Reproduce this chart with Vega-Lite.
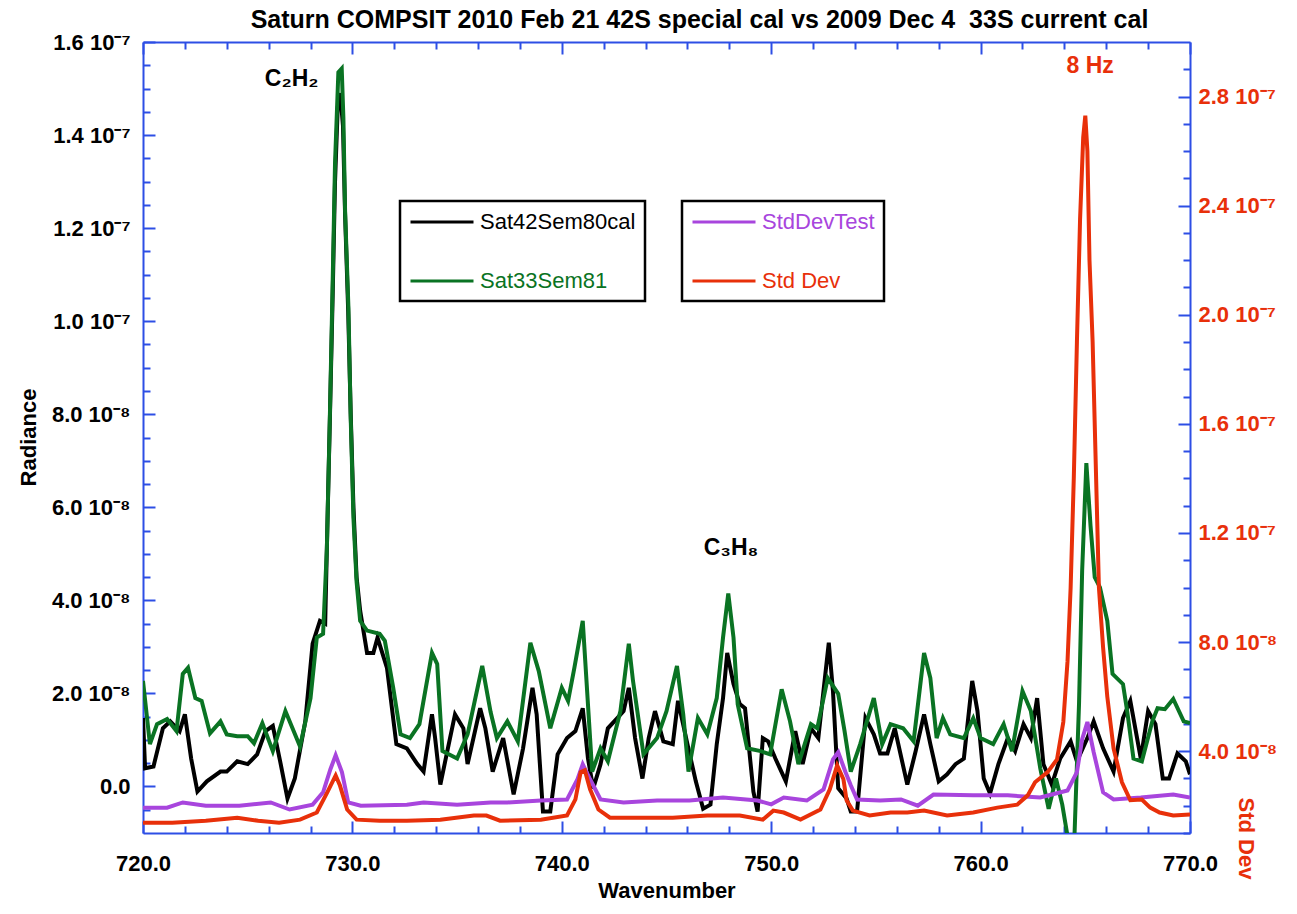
{
  "$schema": "https://vega.github.io/schema/vega-lite/v6.json",
  "width": 1047,
  "height": 791,
  "autosize": {"type": "none"},
  "padding": {"left": 143, "top": 42, "right": 107, "bottom": 81},
  "background": "white",
  "title": {
    "text": "Saturn COMPSIT 2010 Feb 21 42S special cal vs 2009 Dec 4\u00a0 33S current cal",
    "font": "Liberation Sans",
    "fontSize": 25,
    "fontWeight": "bold",
    "color": "#000000",
    "anchor": "middle",
    "frame": "group",
    "offset": -2,
    "dx": 33
  },
  "datasets": {
    "black": [
      {"w":720,"v":1.47e-8},{"w":720.1,"v":0.39e-8},{"w":720.5,"v":0.43e-8},{"w":720.95,"v":1.25e-8},{"w":721.3,"v":1.40e-8},{"w":721.75,"v":1.19e-8},{"w":722.0,"v":1.55e-8},{"w":722.3,"v":0.6e-8},{"w":722.6,"v":-0.11e-8},{"w":723.05,"v":0.11e-8},{"w":723.7,"v":0.32e-8},{"w":724.0,"v":0.32e-8},{"w":724.5,"v":0.54e-8},{"w":725.0,"v":0.48e-8},{"w":725.45,"v":0.69e-8},{"w":725.85,"v":1.19e-8},{"w":726.2,"v":1.30e-8},{"w":726.55,"v":0.54e-8},{"w":726.9,"v":-0.26e-8},{"w":727.25,"v":0.17e-8},{"w":727.75,"v":1.40e-8},{"w":728.1,"v":3.07e-8},{"w":728.45,"v":3.56e-8},{"w":728.7,"v":3.5e-8},{"w":728.8,"v":5.5e-8},{"w":728.93,"v":8.0e-8},{"w":729.06,"v":10.6e-8},{"w":729.17,"v":13.0e-8},{"w":729.3,"v":14.6e-8},{"w":729.42,"v":14.9e-8},{"w":729.55,"v":14.2e-8},{"w":729.65,"v":12.3e-8},{"w":729.8,"v":10.2e-8},{"w":729.92,"v":8.0e-8},{"w":730.05,"v":6.0e-8},{"w":730.2,"v":4.5e-8},{"w":730.37,"v":3.78e-8},{"w":730.7,"v":2.87e-8},{"w":731.0,"v":2.87e-8},{"w":731.2,"v":3.2e-8},{"w":731.65,"v":2.55e-8},{"w":732.1,"v":0.91e-8},{"w":732.6,"v":0.82e-8},{"w":733.1,"v":0.48e-8},{"w":733.4,"v":0.32e-8},{"w":733.8,"v":1.55e-8},{"w":733.95,"v":1.04e-8},{"w":734.2,"v":0.04e-8},{"w":734.5,"v":0.69e-8},{"w":734.9,"v":1.55e-8},{"w":735.3,"v":1.25e-8},{"w":735.5,"v":0.48e-8},{"w":736.1,"v":1.68e-8},{"w":736.35,"v":1.25e-8},{"w":736.7,"v":0.32e-8},{"w":737.2,"v":1.04e-8},{"w":737.7,"v":-0.17e-8},{"w":738.15,"v":0.82e-8},{"w":738.6,"v":2.12e-8},{"w":738.8,"v":1.55e-8},{"w":739.1,"v":-0.54e-8},{"w":739.45,"v":-0.54e-8},{"w":739.8,"v":0.69e-8},{"w":740.25,"v":1.04e-8},{"w":740.65,"v":1.19e-8},{"w":741.0,"v":1.68e-8},{"w":741.25,"v":0.6e-8},{"w":741.5,"v":-0.04e-8},{"w":741.85,"v":0.48e-8},{"w":742.2,"v":1.25e-8},{"w":742.65,"v":1.47e-8},{"w":742.95,"v":1.62e-8},{"w":743.2,"v":2.12e-8},{"w":743.5,"v":1.04e-8},{"w":743.85,"v":0.17e-8},{"w":744.15,"v":1.04e-8},{"w":744.45,"v":1.62e-8},{"w":744.85,"v":0.97e-8},{"w":745.3,"v":0.91e-8},{"w":745.55,"v":1.84e-8},{"w":746.0,"v":0.91e-8},{"w":746.4,"v":0.11e-8},{"w":746.75,"v":-0.48e-8},{"w":747.1,"v":-0.39e-8},{"w":747.4,"v":0.91e-8},{"w":747.7,"v":1.90e-8},{"w":747.9,"v":2.87e-8},{"w":748.2,"v":2.2e-8},{"w":748.5,"v":1.77e-8},{"w":748.75,"v":1.68e-8},{"w":749.15,"v":-0.11e-8},{"w":749.35,"v":-0.54e-8},{"w":749.6,"v":1.04e-8},{"w":749.85,"v":0.97e-8},{"w":750.2,"v":0.6e-8},{"w":750.7,"v":0.11e-8},{"w":751.15,"v":1.19e-8},{"w":751.5,"v":0.48e-8},{"w":751.9,"v":1.25e-8},{"w":752.25,"v":1.04e-8},{"w":752.75,"v":3.09e-8},{"w":752.95,"v":2.05e-8},{"w":753.2,"v":-0.04e-8},{"w":753.6,"v":-0.26e-8},{"w":753.8,"v":-0.54e-8},{"w":754.1,"v":-0.54e-8},{"w":754.5,"v":1.47e-8},{"w":754.9,"v":1.12e-8},{"w":755.2,"v":0.71e-8},{"w":755.55,"v":0.71e-8},{"w":755.9,"v":1.25e-8},{"w":756.5,"v":0.04e-8},{"w":756.9,"v":0.76e-8},{"w":757.3,"v":1.55e-8},{"w":757.6,"v":0.91e-8},{"w":758.0,"v":0.11e-8},{"w":758.4,"v":0.26e-8},{"w":758.8,"v":0.48e-8},{"w":759.2,"v":0.6e-8},{"w":759.6,"v":2.27e-8},{"w":759.85,"v":1.62e-8},{"w":760.15,"v":0.17e-8},{"w":760.45,"v":-0.15e-8},{"w":760.85,"v":0.48e-8},{"w":761.3,"v":1.04e-8},{"w":761.65,"v":0.76e-8},{"w":762.05,"v":1.34e-8},{"w":762.4,"v":1.04e-8},{"w":762.7,"v":1.90e-8},{"w":763.0,"v":0.48e-8},{"w":763.4,"v":0.04e-8},{"w":763.8,"v":0.6e-8},{"w":764.3,"v":0.97e-8},{"w":764.6,"v":0.54e-8},{"w":765.1,"v":1.04e-8},{"w":765.4,"v":1.40e-8},{"w":765.85,"v":0.82e-8},{"w":766.35,"v":0.32e-8},{"w":766.8,"v":1.47e-8},{"w":767.15,"v":1.84e-8},{"w":767.65,"v":0.6e-8},{"w":768.0,"v":1.62e-8},{"w":768.35,"v":1.34e-8},{"w":768.7,"v":0.17e-8},{"w":769.0,"v":0.17e-8},{"w":769.4,"v":0.71e-8},{"w":769.8,"v":0.54e-8},{"w":770.0,"v":0.26e-8}
    ],
    "green": [
      {"w":720,"v":2.27e-8},{"w":720.33,"v":0.91e-8},{"w":720.67,"v":1.34e-8},{"w":721.15,"v":1.45e-8},{"w":721.6,"v":1.19e-8},{"w":721.9,"v":2.42e-8},{"w":722.15,"v":2.55e-8},{"w":722.5,"v":1.90e-8},{"w":722.8,"v":1.84e-8},{"w":723.2,"v":1.14e-8},{"w":723.7,"v":1.40e-8},{"w":724.0,"v":1.12e-8},{"w":724.5,"v":1.08e-8},{"w":725.0,"v":1.08e-8},{"w":725.3,"v":0.93e-8},{"w":725.7,"v":1.36e-8},{"w":726.2,"v":0.76e-8},{"w":726.8,"v":1.62e-8},{"w":727.5,"v":0.86e-8},{"w":728.0,"v":1.90e-8},{"w":728.3,"v":3.2e-8},{"w":728.6,"v":3.28e-8},{"w":728.78,"v":5.1e-8},{"w":728.93,"v":8.08e-8},{"w":729.06,"v":10.9e-8},{"w":729.17,"v":13.4e-8},{"w":729.33,"v":15.35e-8},{"w":729.49,"v":15.43e-8},{"w":729.57,"v":14.36e-8},{"w":729.65,"v":12.38e-8},{"w":729.81,"v":10.3e-8},{"w":729.92,"v":7.9e-8},{"w":730.05,"v":5.77e-8},{"w":730.2,"v":4.4e-8},{"w":730.37,"v":3.56e-8},{"w":730.7,"v":3.35e-8},{"w":731.3,"v":3.28e-8},{"w":731.55,"v":3.13e-8},{"w":731.95,"v":2.12e-8},{"w":732.3,"v":1.12e-8},{"w":732.75,"v":1.04e-8},{"w":733.2,"v":1.34e-8},{"w":733.8,"v":2.87e-8},{"w":734.05,"v":2.63e-8},{"w":734.3,"v":0.76e-8},{"w":735.0,"v":0.6e-8},{"w":735.5,"v":1.12e-8},{"w":736.2,"v":2.59e-8},{"w":736.6,"v":1.6e-8},{"w":736.9,"v":1.04e-8},{"w":737.4,"v":1.40e-8},{"w":737.9,"v":0.97e-8},{"w":738.5,"v":3.09e-8},{"w":738.9,"v":2.48e-8},{"w":739.45,"v":1.25e-8},{"w":740.0,"v":2.12e-8},{"w":740.3,"v":1.84e-8},{"w":740.6,"v":2.55e-8},{"w":741.0,"v":3.56e-8},{"w":741.2,"v":2.12e-8},{"w":741.45,"v":0.32e-8},{"w":741.85,"v":0.82e-8},{"w":742.2,"v":0.54e-8},{"w":742.8,"v":1.62e-8},{"w":743.2,"v":3.07e-8},{"w":743.4,"v":2.27e-8},{"w":743.9,"v":0.69e-8},{"w":744.55,"v":1.04e-8},{"w":745.0,"v":1.62e-8},{"w":745.5,"v":2.59e-8},{"w":745.8,"v":1.55e-8},{"w":746.05,"v":0.32e-8},{"w":746.5,"v":1.47e-8},{"w":746.95,"v":1.12e-8},{"w":747.4,"v":1.90e-8},{"w":747.7,"v":3.2e-8},{"w":747.95,"v":4.15e-8},{"w":748.2,"v":3.2e-8},{"w":748.4,"v":1.77e-8},{"w":748.85,"v":0.82e-8},{"w":749.5,"v":0.76e-8},{"w":749.95,"v":0.69e-8},{"w":750.5,"v":2.09e-8},{"w":750.9,"v":1.40e-8},{"w":751.3,"v":0.48e-8},{"w":751.9,"v":1.34e-8},{"w":752.2,"v":1.25e-8},{"w":752.7,"v":2.33e-8},{"w":753.2,"v":1.99e-8},{"w":753.5,"v":1.2e-8},{"w":753.8,"v":0.32e-8},{"w":754.25,"v":0.91e-8},{"w":754.9,"v":1.90e-8},{"w":755.3,"v":0.91e-8},{"w":755.7,"v":1.34e-8},{"w":756.3,"v":1.25e-8},{"w":756.8,"v":0.97e-8},{"w":757.3,"v":2.87e-8},{"w":757.6,"v":2.33e-8},{"w":757.9,"v":1.04e-8},{"w":758.2,"v":1.47e-8},{"w":758.55,"v":1.12e-8},{"w":759.2,"v":1.04e-8},{"w":759.65,"v":1.47e-8},{"w":760.0,"v":1.04e-8},{"w":760.6,"v":0.91e-8},{"w":761.1,"v":1.34e-8},{"w":761.5,"v":0.76e-8},{"w":762.0,"v":2.05e-8},{"w":762.4,"v":1.62e-8},{"w":762.85,"v":0.39e-8},{"w":763.25,"v":-0.48e-8},{"w":763.6,"v":0.17e-8},{"w":763.9,"v":-0.39e-8},{"w":764.2,"v":-1.2e-8},{"w":764.45,"v":-1.5e-8},{"w":764.7,"v":1.77e-8},{"w":764.85,"v":4.64e-8},{"w":765.05,"v":6.95e-8},{"w":765.25,"v":5.6e-8},{"w":765.45,"v":4.5e-8},{"w":765.7,"v":4.28e-8},{"w":766.05,"v":3.56e-8},{"w":766.3,"v":2.42e-8},{"w":766.8,"v":2.2e-8},{"w":767.0,"v":1.62e-8},{"w":767.3,"v":0.6e-8},{"w":767.7,"v":0.54e-8},{"w":768.2,"v":1.40e-8},{"w":768.45,"v":1.68e-8},{"w":768.8,"v":1.66e-8},{"w":769.2,"v":1.88e-8},{"w":769.7,"v":1.40e-8},{"w":770.0,"v":1.36e-8}
    ],
    "purple": [
      {"w":720,"v":1.93e-8},{"w":721.15,"v":1.93e-8},{"w":721.9,"v":2.12e-8},{"w":723.0,"v":2.0e-8},{"w":724.6,"v":2.0e-8},{"w":726.1,"v":2.12e-8},{"w":727.0,"v":1.86e-8},{"w":728.1,"v":2.04e-8},{"w":728.6,"v":2.49e-8},{"w":728.95,"v":3.34e-8},{"w":729.2,"v":3.85e-8},{"w":729.5,"v":3.23e-8},{"w":729.8,"v":2.12e-8},{"w":730.4,"v":2.0e-8},{"w":732.6,"v":2.04e-8},{"w":733.4,"v":2.12e-8},{"w":735.0,"v":2.04e-8},{"w":736.6,"v":2.12e-8},{"w":737.4,"v":2.12e-8},{"w":739.0,"v":2.19e-8},{"w":740.25,"v":2.23e-8},{"w":740.75,"v":2.97e-8},{"w":741.0,"v":3.52e-8},{"w":741.35,"v":2.97e-8},{"w":741.85,"v":2.23e-8},{"w":742.95,"v":2.12e-8},{"w":744.55,"v":2.19e-8},{"w":746.1,"v":2.19e-8},{"w":747.7,"v":2.3e-8},{"w":749.35,"v":2.19e-8},{"w":750.0,"v":2.05e-8},{"w":750.6,"v":2.3e-8},{"w":751.7,"v":2.19e-8},{"w":752.5,"v":2.6e-8},{"w":752.95,"v":3.7e-8},{"w":753.2,"v":3.96e-8},{"w":753.55,"v":3.23e-8},{"w":753.8,"v":2.75e-8},{"w":754.1,"v":2.23e-8},{"w":755.2,"v":2.19e-8},{"w":756.2,"v":2.23e-8},{"w":757.0,"v":2.0e-8},{"w":757.75,"v":2.41e-8},{"w":759.65,"v":2.38e-8},{"w":761.3,"v":2.38e-8},{"w":762.85,"v":2.3e-8},{"w":764.15,"v":2.56e-8},{"w":764.6,"v":3.23e-8},{"w":764.85,"v":4.44e-8},{"w":765.1,"v":5.07e-8},{"w":765.4,"v":3.96e-8},{"w":765.85,"v":2.49e-8},{"w":766.35,"v":2.23e-8},{"w":767.65,"v":2.3e-8},{"w":769.2,"v":2.41e-8},{"w":770.0,"v":2.3e-8}
    ],
    "red": [
      {"w":720,"v":1.38e-8},{"w":721.4,"v":1.38e-8},{"w":723.0,"v":1.45e-8},{"w":724.5,"v":1.56e-8},{"w":725.5,"v":1.45e-8},{"w":726.5,"v":1.38e-8},{"w":727.5,"v":1.49e-8},{"w":728.3,"v":1.75e-8},{"w":728.8,"v":2.49e-8},{"w":729.2,"v":3.11e-8},{"w":729.4,"v":2.75e-8},{"w":729.75,"v":1.86e-8},{"w":730.2,"v":1.49e-8},{"w":731.3,"v":1.45e-8},{"w":732.6,"v":1.45e-8},{"w":734.2,"v":1.49e-8},{"w":735.8,"v":1.64e-8},{"w":736.4,"v":1.64e-8},{"w":737.05,"v":1.45e-8},{"w":739.0,"v":1.49e-8},{"w":740.25,"v":1.64e-8},{"w":740.65,"v":2.23e-8},{"w":740.9,"v":3.23e-8},{"w":741.1,"v":3.3e-8},{"w":741.35,"v":2.6e-8},{"w":741.75,"v":1.86e-8},{"w":742.3,"v":1.56e-8},{"w":743.75,"v":1.56e-8},{"w":745.3,"v":1.56e-8},{"w":746.95,"v":1.64e-8},{"w":748.5,"v":1.64e-8},{"w":749.6,"v":1.49e-8},{"w":750.1,"v":1.82e-8},{"w":750.6,"v":1.75e-8},{"w":751.4,"v":1.49e-8},{"w":752.35,"v":1.86e-8},{"w":752.8,"v":2.6e-8},{"w":753.15,"v":3.48e-8},{"w":753.45,"v":2.97e-8},{"w":753.6,"v":2.2e-8},{"w":753.9,"v":1.82e-8},{"w":754.7,"v":1.64e-8},{"w":755.7,"v":1.75e-8},{"w":756.5,"v":1.75e-8},{"w":757.3,"v":1.82e-8},{"w":758.4,"v":1.64e-8},{"w":759.65,"v":1.75e-8},{"w":760.8,"v":1.93e-8},{"w":761.75,"v":2.04e-8},{"w":762.25,"v":2.38e-8},{"w":762.6,"v":2.86e-8},{"w":763.2,"v":3.23e-8},{"w":763.65,"v":3.7e-8},{"w":763.95,"v":5.07e-8},{"w":764.15,"v":7.28e-8},{"w":764.3,"v":10.0e-8},{"w":764.45,"v":14.0e-8},{"w":764.6,"v":19.0e-8},{"w":764.75,"v":23.5e-8},{"w":764.9,"v":26.5e-8},{"w":765.0,"v":27.3e-8},{"w":765.1,"v":26.0e-8},{"w":765.2,"v":22.0e-8},{"w":765.35,"v":19.0e-8},{"w":765.45,"v":16.0e-8},{"w":765.55,"v":13.0e-8},{"w":765.65,"v":10.0e-8},{"w":765.85,"v":7.8e-8},{"w":766.05,"v":6.0e-8},{"w":766.35,"v":4.1e-8},{"w":766.75,"v":2.86e-8},{"w":767.15,"v":2.2e-8},{"w":767.7,"v":2.23e-8},{"w":768.1,"v":1.93e-8},{"w":768.55,"v":1.75e-8},{"w":769.2,"v":1.64e-8},{"w":770.0,"v":1.68e-8}
    ],
    "notes": [
      {"w":727.1,"v":15.2e-8,"label":"C₂H₂"},
      {"w":748.08,"v":5.13e-8,"label":"C₃H₈"},
      {"w":765.23,"v":15.48e-8,"label":"8 Hz"}
    ]
  },
  "layer": [
    {
      "resolve": {"axis": {"x": "independent", "y": "independent"}},
      "layer": [
        {
          "data": {"name": "black"},
          "mark": {"type": "line", "strokeWidth": 4, "clip": true},
          "encoding": {
            "x": {
              "field": "w", "type": "quantitative",
              "scale": {"domain": [720, 770], "nice": false, "zero": false},
              "axis": {
                "orient": "bottom",
                "values": [720,730,740,750,760,770],
                "format": ".1f",
                "labelOverlap": false, "labelFlush": false, "labelBound": false,
                "tickSize": -12,
                "labelPadding": 32,
                "labelFont": "Liberation Sans", "labelFontSize": 22, "labelFontWeight": "bold", "labelColor": "#000000",
                "domainColor": "#2d4ee5", "domainWidth": 2, "tickColor": "#2d4ee5", "tickWidth": 2,
                "grid": false,
                "title": "Wavenumber",
                "titleFont": "Liberation Sans", "titleFontSize": 22, "titleFontWeight": "bold", "titleColor": "#000000",
                "titleY": 57, "titleBaseline": "middle"
              }
            },
            "y": {
              "field": "v", "type": "quantitative",
              "scale": {"domain": [-1e-8, 16e-8], "nice": false, "zero": false},
              "axis": {
                "orient": "left",
                "values": [0,2e-8,4e-8,6e-8,8e-8,10e-8,12e-8,14e-8,16e-8],
                "labelExpr": "datum.value == 0 ? '0.0' : (datum.value > 9.99e-8 ? format(datum.value/1e-7, '.1f') + ' 10⁻⁷' : format(datum.value/1e-8, '.1f') + ' 10⁻⁸')",
                "labelOverlap": false, "labelFlush": false, "labelBound": false,
                "tickSize": -12,
                "labelPadding": 25,
                "labelFont": "Liberation Sans", "labelFontSize": 22, "labelFontWeight": "bold", "labelColor": "#000000",
                "domainColor": "#2d4ee5", "domainWidth": 2, "tickColor": "#2d4ee5", "tickWidth": 2,
                "grid": false,
                "title": "Radiance",
                "titleFont": "Liberation Sans", "titleFontSize": 22, "titleFontWeight": "bold", "titleColor": "#000000",
                "titleX": -115, "titleY": 395, "titleAngle": -90, "titleAlign": "center", "titleBaseline": "middle"
              }
            },
            "color": {
              "datum": "Sat42Sem80cal", "type": "nominal",
              "scale": {"domain": ["Sat42Sem80cal", "Sat33Sem81"], "range": ["#000000", "#0a7323"]},
              "legend": {
                "orient": "none", "legendX": 257, "legendY": 159,
                "title": null, "direction": "vertical",
                "symbolType": "M-1,0H5", "symbolSize": 441, "symbolStrokeWidth": 3,
                "labelFont": "Liberation Sans", "labelFontSize": 22, "labelOffset": 47, "labelLimit": 400,
                "rowPadding": 36, "padding": 9,
                "strokeColor": "#000000",
                "encode": {
                  "labels": {"update": {"fill": {"signal": "datum.value === 'Sat33Sem81' ? '#0a7323' : '#000000'"}}},
                  "legend": {"update": {"strokeWidth": {"value": 2.5}}}
                }
              }
            }
          }
        },
        {
          "data": {"name": "green"},
          "mark": {"type": "line", "strokeWidth": 4, "clip": true},
          "encoding": {
            "x": {
              "field": "w", "type": "quantitative",
              "axis": {
                "orient": "bottom",
                "values": [722,724,726,728,732,734,736,738,742,744,746,748,752,754,756,758,762,764,766,768],
                "labels": false, "domain": false, "grid": false, "title": null,
                "tickSize": -7, "tickColor": "#2d4ee5", "tickWidth": 2
              }
            },
            "y": {
              "field": "v", "type": "quantitative",
              "axis": {
                "orient": "left",
                "values": [-0.5e-8,0.5e-8,1e-8,1.5e-8,2.5e-8,3e-8,3.5e-8,4.5e-8,5e-8,5.5e-8,6.5e-8,7e-8,7.5e-8,8.5e-8,9e-8,9.5e-8,10.5e-8,11e-8,11.5e-8,12.5e-8,13e-8,13.5e-8,14.5e-8,15e-8,15.5e-8],
                "labels": false, "domain": false, "grid": false, "title": null,
                "tickSize": -7, "tickColor": "#2d4ee5", "tickWidth": 2
              }
            },
            "color": {"datum": "Sat33Sem81", "type": "nominal"}
          }
        },
        {
          "data": {"name": "notes"},
          "mark": {"type": "text", "font": "Liberation Sans", "fontSize": 23, "fontWeight": "bold", "align": "center", "baseline": "middle"},
          "encoding": {
            "x": {"field": "w", "type": "quantitative", "axis": null},
            "y": {"field": "v", "type": "quantitative", "axis": null},
            "text": {"field": "label"},
            "color": {"condition": {"test": "datum.label === '8 Hz'", "value": "#e8300a"}, "value": "#000000"}
          }
        }
      ]
    },
    {
      "resolve": {"axis": {"x": "independent", "y": "independent"}},
      "layer": [
        {
          "data": {"name": "purple"},
          "mark": {"type": "line", "strokeWidth": 4, "clip": true},
          "encoding": {
            "x": {
              "field": "w", "type": "quantitative",
              "axis": {
                "orient": "top",
                "values": [720,730,740,750,760,770],
                "labels": false,
                "tickSize": -12,
                "domainColor": "#2d4ee5", "domainWidth": 2, "tickColor": "#2d4ee5", "tickWidth": 2,
                "grid": false, "title": null
              }
            },
            "y": {
              "field": "v", "type": "quantitative",
              "scale": {"domain": [1e-8, 30e-8], "nice": false, "zero": false},
              "axis": {
                "orient": "right",
                "values": [4e-8,8e-8,12e-8,16e-8,20e-8,24e-8,28e-8],
                "labelExpr": "datum.value > 9.99e-8 ? format(datum.value/1e-7, '.1f') + ' 10⁻⁷' : format(datum.value/1e-8, '.1f') + ' 10⁻⁸'",
                "labelOverlap": false, "labelFlush": false, "labelBound": false,
                "tickSize": -12,
                "labelPadding": 20,
                "labelFont": "Liberation Sans", "labelFontSize": 22, "labelFontWeight": "bold", "labelColor": "#e8300a",
                "domainColor": "#2d4ee5", "domainWidth": 2, "tickColor": "#2d4ee5", "tickWidth": 2,
                "grid": false,
                "title": "Std Dev",
                "titleFont": "Liberation Sans", "titleFontSize": 22, "titleFontWeight": "bold", "titleColor": "#e8300a",
                "titleX": 55, "titleY": 796, "titleAngle": 90, "titleAlign": "center", "titleBaseline": "middle"
              }
            },
            "color": {
              "datum": "StdDevTest", "type": "nominal",
              "scale": {"domain": ["StdDevTest", "Std Dev"], "range": ["#a845dd", "#e8300a"]},
              "legend": {
                "orient": "none", "legendX": 539, "legendY": 159,
                "title": null, "direction": "vertical",
                "symbolType": "M-1,0H5", "symbolSize": 441, "symbolStrokeWidth": 3,
                "labelFont": "Liberation Sans", "labelFontSize": 22, "labelOffset": 47, "labelLimit": 400,
                "rowPadding": 36, "padding": 9,
                "strokeColor": "#000000",
                "encode": {
                  "labels": {"update": {"fill": {"signal": "datum.value === 'Std Dev' ? '#e8300a' : '#a845dd'"}}},
                  "legend": {"update": {"strokeWidth": {"value": 2.5}}}
                }
              }
            }
          }
        },
        {
          "data": {"name": "red"},
          "mark": {"type": "line", "strokeWidth": 4, "clip": true},
          "encoding": {
            "x": {
              "field": "w", "type": "quantitative",
              "axis": {
                "orient": "top",
                "values": [722,724,726,728,732,734,736,738,742,744,746,748,752,754,756,758,762,764,766,768],
                "labels": false, "domain": false, "grid": false, "title": null,
                "tickSize": -7, "tickColor": "#2d4ee5", "tickWidth": 2
              }
            },
            "y": {
              "field": "v", "type": "quantitative",
              "axis": {
                "orient": "right",
                "values": [1e-8,2e-8,3e-8,5e-8,6e-8,7e-8,9e-8,10e-8,11e-8,13e-8,14e-8,15e-8,17e-8,18e-8,19e-8,21e-8,22e-8,23e-8,25e-8,26e-8,27e-8,29e-8],
                "labels": false, "domain": false, "grid": false, "title": null,
                "tickSize": -7, "tickColor": "#2d4ee5", "tickWidth": 2
              }
            },
            "color": {"datum": "Std Dev", "type": "nominal"}
          }
        }
      ]
    }
  ],
  "resolve": {
    "scale": {"y": "independent", "color": "independent"},
    "axis": {"x": "independent", "y": "independent"}
  },
  "config": {
    "view": {"stroke": null},
    "axis": {"grid": false}
  }
}
